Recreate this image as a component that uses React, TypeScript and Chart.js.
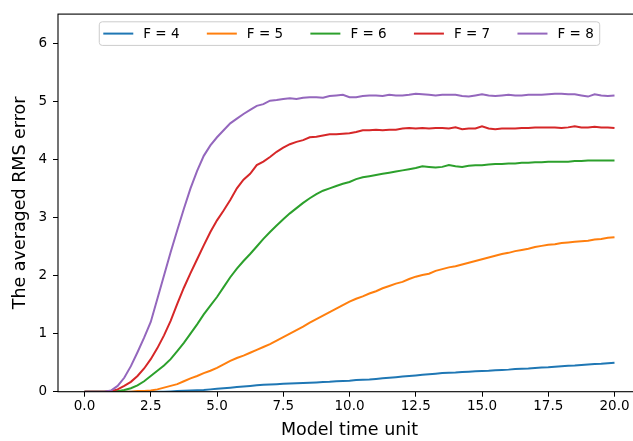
import React, { useEffect, useRef } from "react";
import { Chart, registerables } from "chart.js";

Chart.register(...registerables);

const TIME = [
  0, 0.25, 0.5, 0.75, 1, 1.25, 1.5, 1.75, 2, 2.25, 2.5, 2.75, 3, 3.25, 3.5, 3.75,
  4, 4.25, 4.5, 4.75, 5, 5.25, 5.5, 5.75, 6, 6.25, 6.5, 6.75, 7, 7.25, 7.5, 7.75,
  8, 8.25, 8.5, 8.75, 9, 9.25, 9.5, 9.75, 10, 10.25, 10.5, 10.75, 11, 11.25, 11.5, 11.75,
  12, 12.25, 12.5, 12.75, 13, 13.25, 13.5, 13.75, 14, 14.25, 14.5, 14.75, 15, 15.25, 15.5, 15.75,
  16, 16.25, 16.5, 16.75, 17, 17.25, 17.5, 17.75, 18, 18.25, 18.5, 18.75, 19, 19.25, 19.5, 19.75, 20,
];

const F4 = [
  0, 0, 0, 0, 0, 0, 0, 0, 0, 0, 0, 0, 0, 0.005, 0.01, 0.015,
  0.02, 0.025, 0.03, 0.04, 0.05, 0.06, 0.07, 0.08, 0.09, 0.1, 0.11, 0.12, 0.125, 0.13, 0.135, 0.14,
  0.145, 0.15, 0.155, 0.16, 0.165, 0.17, 0.18, 0.185, 0.19, 0.2, 0.205, 0.21, 0.22, 0.23, 0.24, 0.25,
  0.26, 0.27, 0.28, 0.29, 0.3, 0.31, 0.32, 0.325, 0.33, 0.34, 0.345, 0.35, 0.355, 0.36, 0.37, 0.375,
  0.38, 0.39, 0.395, 0.4, 0.41, 0.415, 0.42, 0.43, 0.44, 0.445, 0.45, 0.46, 0.47, 0.475, 0.48, 0.49, 0.5,
];

const F5 = [
  0, 0, 0, 0, 0, 0, 0, 0, 0.01, 0.01, 0.02, 0.04, 0.07, 0.1, 0.13, 0.18,
  0.23, 0.27, 0.32, 0.36, 0.41, 0.47, 0.53, 0.58, 0.62, 0.67, 0.72, 0.77, 0.82, 0.88, 0.94, 1.0,
  1.06, 1.12, 1.19, 1.25, 1.31, 1.37, 1.43, 1.49, 1.55, 1.6, 1.64, 1.69, 1.73, 1.78, 1.82, 1.86,
  1.89, 1.94, 1.98, 2.01, 2.03, 2.08, 2.11, 2.14, 2.16, 2.19, 2.22, 2.25, 2.28, 2.31, 2.34, 2.37,
  2.39, 2.42, 2.44, 2.46, 2.49, 2.51, 2.53, 2.54, 2.56, 2.57, 2.58, 2.59, 2.6, 2.62, 2.63, 2.65, 2.66,
];

const F6 = [
  0, 0, 0, 0, 0, 0.01, 0.03, 0.06, 0.11, 0.18, 0.27, 0.36, 0.45, 0.56, 0.7, 0.84,
  1.0, 1.16, 1.33, 1.48, 1.63, 1.8, 1.97, 2.12, 2.25, 2.37, 2.5, 2.63, 2.75, 2.86, 2.97, 3.07,
  3.16, 3.25, 3.33, 3.4, 3.46, 3.5, 3.54, 3.58, 3.61, 3.66, 3.69, 3.71, 3.73, 3.75, 3.77, 3.79,
  3.81, 3.83, 3.85, 3.88, 3.87, 3.86, 3.87, 3.9, 3.88, 3.87, 3.89, 3.9, 3.9, 3.91, 3.92, 3.92,
  3.93, 3.93, 3.94, 3.94, 3.95, 3.95, 3.96, 3.96, 3.96, 3.96, 3.97, 3.97, 3.98, 3.98, 3.98, 3.98, 3.98,
];

const F7 = [
  0, 0, 0, 0, 0.01, 0.04, 0.1, 0.17, 0.27, 0.4, 0.56, 0.75, 0.97, 1.22, 1.51, 1.79,
  2.04, 2.28, 2.52, 2.75, 2.95, 3.12, 3.3, 3.5, 3.65, 3.75, 3.9, 3.96, 4.04, 4.13, 4.2, 4.26,
  4.3, 4.33, 4.38, 4.39, 4.41, 4.43, 4.43, 4.44, 4.45, 4.47, 4.5, 4.5, 4.51, 4.5, 4.51, 4.51,
  4.53, 4.54, 4.53, 4.54, 4.53, 4.54, 4.54, 4.53, 4.55, 4.52, 4.53, 4.53, 4.57, 4.53, 4.52, 4.53,
  4.53, 4.53, 4.54, 4.54, 4.55, 4.55, 4.55, 4.55, 4.54, 4.55, 4.57, 4.55, 4.55, 4.56, 4.55, 4.55, 4.54,
];

const F8 = [
  0, 0, 0, 0, 0.02, 0.1, 0.24, 0.44, 0.68, 0.93, 1.2, 1.6, 2.0, 2.4, 2.78, 3.15,
  3.5, 3.8, 4.06, 4.24, 4.38, 4.5, 4.62, 4.7, 4.78, 4.85, 4.92, 4.95, 5.01, 5.02, 5.04, 5.05,
  5.04, 5.06, 5.07, 5.07, 5.06, 5.09, 5.1, 5.11, 5.07, 5.07, 5.09, 5.1, 5.1, 5.09, 5.11, 5.1,
  5.1, 5.11, 5.13, 5.12, 5.11, 5.1, 5.11, 5.11, 5.11, 5.09, 5.08, 5.1, 5.12, 5.1, 5.09, 5.1,
  5.11, 5.1, 5.1, 5.11, 5.11, 5.11, 5.12, 5.13, 5.13, 5.12, 5.12, 5.1, 5.08, 5.12, 5.1, 5.09, 5.1,
];

const SERIES_LABELS = ["F = 4", "F = 5", "F = 6", "F = 7", "F = 8"];
const SERIES_VALUES = [F4, F5, F6, F7, F8];
const COLORS = ["#1f77b4", "#ff7f0e", "#2ca02c", "#d62728", "#9467bd"];

const X_TICKS = [0, 2.5, 5, 7.5, 10, 12.5, 15, 17.5, 20];
const Y_TICKS = [0, 1, 2, 3, 4, 5, 6];
const X_RANGE = [-1, 21];
const Y_RANGE = [0, 6.5];

const X_TITLE = "Model time unit";
const Y_TITLE = "The averaged RMS error";

const FONT = "'DejaVu Sans', sans-serif";

const framePlugin = {
  id: "frame",
  afterDraw(chart: any) {
    const { ctx, chartArea } = chart;
    ctx.save();
    ctx.strokeStyle = "#000";
    ctx.lineWidth = 1.1;
    ctx.strokeRect(chartArea.left, chartArea.top, chartArea.right - chartArea.left, chartArea.bottom - chartArea.top);
    ctx.restore();
  },
};

const legendPlugin = {
  id: "mplLegend",
  afterDraw(chart: any) {
    const { ctx, chartArea } = chart;
    ctx.save();
    ctx.font = `13.5px ${FONT}`;
    const lineLen = 30;
    const gap = 10;
    const spacing = 27.3;
    const padL = 4;
    const padR = 6;
    const widths = SERIES_LABELS.map((l) => ctx.measureText(l).width);
    let total = padL + padR;
    widths.forEach((w, i) => {
      total += lineLen + gap + w + (i < widths.length - 1 ? spacing : 0);
    });
    const cx = (chartArea.left + chartArea.right) / 2;
    const left = cx - total / 2;
    const top = chartArea.top + 7.7;
    const h = 23.6;
    const r = 3;
    ctx.beginPath();
    ctx.moveTo(left + r, top);
    ctx.lineTo(left + total - r, top);
    ctx.quadraticCurveTo(left + total, top, left + total, top + r);
    ctx.lineTo(left + total, top + h - r);
    ctx.quadraticCurveTo(left + total, top + h, left + total - r, top + h);
    ctx.lineTo(left + r, top + h);
    ctx.quadraticCurveTo(left, top + h, left, top + h - r);
    ctx.lineTo(left, top + r);
    ctx.quadraticCurveTo(left, top, left + r, top);
    ctx.closePath();
    ctx.fillStyle = "rgba(255,255,255,0.8)";
    ctx.fill();
    ctx.strokeStyle = "#cccccc";
    ctx.lineWidth = 1;
    ctx.stroke();
    let x = left + padL;
    const cy = top + h / 2;
    SERIES_LABELS.forEach((label, i) => {
      ctx.beginPath();
      ctx.strokeStyle = COLORS[i];
      ctx.lineWidth = 2;
      ctx.moveTo(x, cy);
      ctx.lineTo(x + lineLen, cy);
      ctx.stroke();
      ctx.fillStyle = "#000";
      ctx.textBaseline = "middle";
      ctx.textAlign = "left";
      ctx.fillText(label, x + lineLen + gap, cy + 1);
      x += lineLen + gap + widths[i] + spacing;
    });
    ctx.restore();
  },
};

export default function App() {
  const canvasRef = useRef<HTMLCanvasElement | null>(null);

  useEffect(() => {
    const canvas = canvasRef.current;
    if (!canvas) return;
    const datasets = SERIES_VALUES.map((vals, i) => ({
      label: SERIES_LABELS[i],
      data: TIME.map((t, j) => ({ x: t, y: vals[j] })),
      borderColor: COLORS[i],
      backgroundColor: COLORS[i],
      borderWidth: 2,
      pointRadius: 0,
      tension: 0,
      fill: false,
      order: SERIES_VALUES.length - 1 - i,
    }));

    const chart = new Chart(canvas, {
      type: "line",
      data: { datasets },
      plugins: [framePlugin, legendPlugin],
      options: {
        animation: false,
        responsive: false,
        maintainAspectRatio: false,
        layout: { padding: { top: 13, right: 19, left: 0, bottom: 0 } },
        plugins: {
          legend: { display: false },
          tooltip: { enabled: false },
        },
        scales: {
          x: {
            type: "linear",
            min: X_RANGE[0],
            max: X_RANGE[1],
            afterBuildTicks: (scale: any) => {
              scale.ticks = X_TICKS.map((v) => ({ value: v }));
            },
            afterFit: (scale: any) => {
              scale.height = 49.3;
            },
            ticks: {
              color: "#000",
              font: { family: FONT, size: 13.5 },
              padding: 2,
              maxRotation: 0,
              autoSkip: false,
              callback: (v: any) => Number(v).toFixed(1),
            },
            grid: {
              display: true,
              drawOnChartArea: false,
              drawTicks: true,
              tickLength: 5,
              color: "#000",
              lineWidth: 1,
            },
            border: { display: false },
            title: {
              display: true,
              text: X_TITLE,
              color: "#000",
              font: { family: FONT, size: 17.5 },
              padding: { top: 0, bottom: 0 },
            },
          },
          y: {
            type: "linear",
            min: Y_RANGE[0],
            max: Y_RANGE[1],
            afterBuildTicks: (scale: any) => {
              scale.ticks = Y_TICKS.map((v) => ({ value: v }));
            },
            afterFit: (scale: any) => {
              scale.width = 58;
            },
            ticks: {
              color: "#000",
              font: { family: FONT, size: 13.5 },
              padding: 6,
              autoSkip: false,
              callback: (v: any) => String(v),
            },
            grid: {
              display: true,
              drawOnChartArea: false,
              drawTicks: true,
              tickLength: 5,
              color: "#000",
              lineWidth: 1,
            },
            border: { display: false },
            title: {
              display: true,
              text: Y_TITLE,
              color: "#000",
              font: { family: FONT, size: 17.5 },
              padding: { top: 10, bottom: 0 },
            },
          },
        },
      },
    } as any);

    return () => {
      chart.destroy();
    };
  }, []);

  return (
    <div style={{ position: "absolute", left: 0, top: 0, width: 633, height: 441, overflow: "hidden", background: "#fff" }}>
      <canvas ref={canvasRef} width={660} height={441} style={{ display: "block", width: 660, height: 441 }} />
    </div>
  );
}
